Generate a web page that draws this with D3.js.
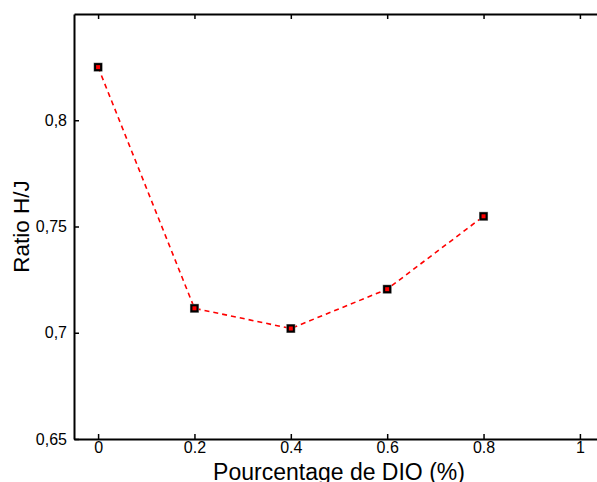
<!DOCTYPE html>
<html>
<head>
<meta charset="utf-8">
<script src="https://cdn.jsdelivr.net/npm/d3@7"></script>
<style>
  html, body { margin: 0; padding: 0; background: #fff; }
  svg { display: block; font-family: "Liberation Sans", Arial, sans-serif; }
</style>
</head>
<body>
<svg id="chart" width="597" height="482"></svg>
<script>
// Data
const xValues = [0, 0.2, 0.4, 0.6, 0.8];
const ratioValues = [0.825, 0.7115, 0.702, 0.7205, 0.7548];
const xTicks = [0, 0.2, 0.4, 0.6, 0.8, 1];
const xTickLabels = ["0", "0.2", "0.4", "0.6", "0.8", "1"];
const yTicks = [0.65, 0.7, 0.75, 0.8];
const yTickLabels = ["0,65", "0,7", "0,75", "0,8"];
const xTitle = "Pourcentage de DIO (%)";
const yTitle = "Ratio H/J";

const svg = d3.select("#chart");
const pLeft = 74, pRight = 604, pTop = 14, pBottom = 439;

const x = d3.scaleLinear().domain([-0.05, 1.05]).range([pLeft, pRight]);
const y = d3.scaleLinear().domain([0.65, 0.85]).range([pBottom, pTop]);

const fmtX = d => xTickLabels[xTicks.findIndex(v => Math.abs(v - d) < 1e-9)];
const fmtY = d => yTickLabels[yTicks.findIndex(v => Math.abs(v - d) < 1e-9)];

const gx = svg.append("g").attr("transform", `translate(0,${pBottom})`)
  .call(d3.axisBottom(x).tickValues(xTicks).tickFormat(fmtX).tickSizeInner(-5).tickSizeOuter(0).tickPadding(3));
const gxt = svg.append("g").attr("transform", `translate(0,${pTop})`)
  .call(d3.axisTop(x).tickValues(xTicks).tickFormat("").tickSizeInner(-5).tickSizeOuter(0));
const gy = svg.append("g").attr("transform", `translate(${pLeft},0)`)
  .call(d3.axisLeft(y).tickValues(yTicks).tickFormat(fmtY).tickSizeInner(-5).tickSizeOuter(0).tickPadding(7));
const gyr = svg.append("g").attr("transform", `translate(${pRight},0)`)
  .call(d3.axisRight(y).tickValues(yTicks).tickFormat("").tickSizeInner(-5).tickSizeOuter(0));

[gx, gxt, gy, gyr].forEach(g => {
  g.select(".domain").attr("stroke", "#000").attr("stroke-width", 2);
  g.selectAll(".tick line").attr("stroke", "#000").attr("stroke-width", 1.5);
  g.selectAll(".tick text").attr("fill", "#000").attr("font-size", 16)
    .attr("font-family", "'Liberation Sans', Arial, sans-serif");
});
gx.selectAll(".tick text").attr("dy", "0.71em");

// Line
const line = d3.line().x((d, i) => x(xValues[i])).y(d => y(d));
svg.append("path").datum(ratioValues)
  .attr("d", line)
  .attr("fill", "none")
  .attr("stroke", "#ff0000")
  .attr("stroke-width", 1.6)
  .attr("stroke-dasharray", "5,4");

// Markers
const m = svg.append("g");
m.selectAll("rect.halo").data(ratioValues).enter().append("rect")
  .attr("class", "halo")
  .attr("x", (d, i) => x(xValues[i]) - 4.5).attr("y", d => y(d) - 4.5)
  .attr("width", 9).attr("height", 9).attr("fill", "#888");
m.selectAll("rect.mk").data(ratioValues).enter().append("rect")
  .attr("class", "mk")
  .attr("x", (d, i) => x(xValues[i]) - 3).attr("y", d => y(d) - 3)
  .attr("width", 6).attr("height", 6)
  .attr("fill", "#ff0000").attr("stroke", "#000").attr("stroke-width", 2);

// Titles
svg.append("text").attr("x", (pLeft + pRight) / 2).attr("y", 480)
  .attr("text-anchor", "middle").attr("font-size", 23).attr("fill", "#000")
  .text(xTitle);
svg.append("text").attr("transform", `translate(29,${(pTop + pBottom) / 2}) rotate(-90)`)
  .attr("text-anchor", "middle").attr("font-size", 22.5).attr("fill", "#000")
  .text(yTitle);
</script>
</body>
</html>
